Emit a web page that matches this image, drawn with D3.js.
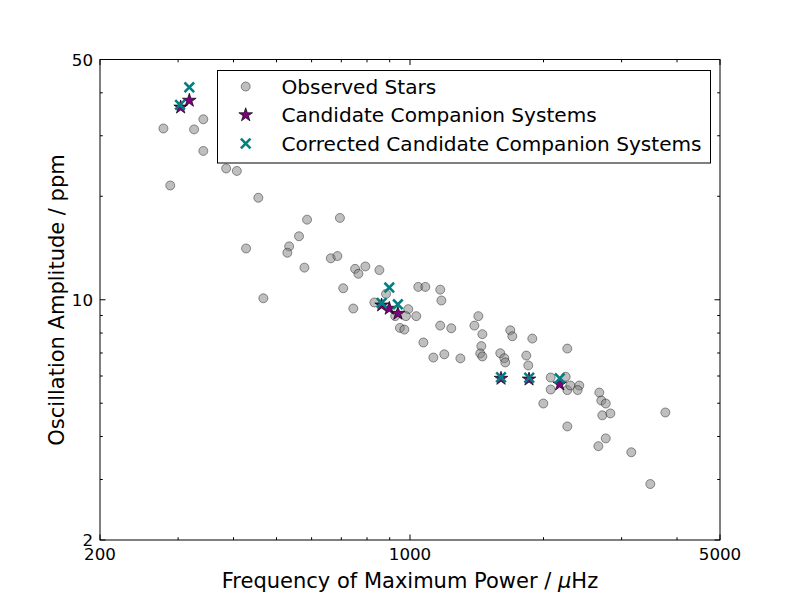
<!DOCTYPE html>
<html>
<head>
<meta charset="utf-8">
<script src="https://cdn.jsdelivr.net/npm/d3@7"></script>
<style>
  body { margin: 0; background: #fff; }
  text { font-family: "DejaVu Sans", sans-serif; fill: #000; }
</style>
</head>
<body>
<svg id="chart" width="800" height="600"></svg>
<script>
// observed stars (numax in uHz, amplitude in ppm)
var obsFreq = [278, 326, 342, 342, 385, 407, 288, 455, 427, 586, 695, 562, 534, 529, 578, 663,
  686, 752, 765, 793, 853, 707, 467, 745, 831, 883, 991, 926, 979, 1033, 949, 971, 1072, 1044,
  1083, 1170, 1177, 1170, 1239, 1129, 1195, 1299, 1426, 1397, 1456, 1448, 1440, 1456, 1598, 1632,
  1640, 1683, 1701, 1887, 1829, 1848, 2263, 2076, 2244, 2076, 2263, 2299, 2408, 2388, 1998, 2263,
  2672, 2700, 2763, 2714, 2830, 2763, 2659, 3155, 3482, 3765];
var obsAmp = [31.5, 31.3, 33.5, 27.1, 24.1, 23.7, 21.5, 19.8, 14.1, 17.1, 17.3, 15.3, 14.3, 13.7, 12.4, 13.2,
  13.4, 12.3, 11.9, 12.5, 12.2, 10.8, 10.1, 9.43, 9.82, 10.4, 9.39, 8.96, 8.96, 8.96, 8.28, 8.19, 7.51, 10.9,
  10.9, 10.7, 9.95, 8.41, 8.26, 6.79, 6.94, 6.75, 8.96, 8.41, 7.94, 7.33, 6.98, 6.84, 6.99, 6.76,
  6.57, 8.15, 7.83, 7.71, 6.88, 6.44, 7.21, 5.94, 5.97, 5.48, 5.46, 5.63, 5.63, 5.46, 4.99, 4.28,
  5.37, 5.09, 4.99, 4.61, 4.67, 3.95, 3.75, 3.60, 2.91, 4.70];

// candidate companion systems
var candFreq = [304, 318, 863, 898, 939, 1604, 1855, 2176];
var candAmp = [36.3, 38.0, 9.64, 9.43, 9.12, 5.90, 5.87, 5.68];

// corrected candidates
var corrFreq = [303, 318, 863, 898, 939, 1604, 1857, 2176];
var corrAmp = [36.9, 41.5, 9.79, 10.85, 9.70, 5.95, 5.93, 5.91];

var xMajor = [200, 1000, 5000];
var xMinor = [300, 400, 500, 600, 700, 800, 900, 2000, 3000, 4000];
var yMajor = [2, 10, 50];
var yMinor = [3, 4, 5, 6, 7, 8, 9, 20, 30, 40];

var legendLabels = ["Observed Stars", "Candidate Companion Systems", "Corrected Candidate Companion Systems"];

var pL = 100, pR = 720, pT = 59.5, pB = 540;

var svg = d3.select("#chart");
var x = d3.scaleLog().domain([200, 5000]).range([pL, pR]);
var y = d3.scaleLog().domain([2, 50]).range([pB, pT]);

var g = svg.append("g");

// observed
g.selectAll("circle.obs")
  .data(d3.range(obsFreq.length))
  .enter()
  .append("circle")
  .attr("class", "obs")
  .attr("cx", function (i) { return x(obsFreq[i]); })
  .attr("cy", function (i) { return y(obsAmp[i]); })
  .attr("r", 4.5)
  .attr("fill", "#808080")
  .attr("fill-opacity", 0.5)
  .attr("stroke", "#000")
  .attr("stroke-opacity", 0.5)
  .attr("stroke-width", 0.8);

var star = d3.symbol().type(d3.symbolStar).size(58);

g.selectAll("path.cand")
  .data(d3.range(candFreq.length))
  .enter()
  .append("path")
  .attr("class", "cand")
  .attr("d", star)
  .attr("transform", function (i) { return "translate(" + x(candFreq[i]) + "," + y(candAmp[i]) + ")"; })
  .attr("fill", "#800080")
  .attr("stroke", "#000")
  .attr("stroke-width", 0.7);

function cross(s) {
  return "M" + (-s) + "," + (-s) + "L" + s + "," + s + "M" + (-s) + "," + s + "L" + s + "," + (-s);
}

g.selectAll("path.corr")
  .data(d3.range(corrFreq.length))
  .enter()
  .append("path")
  .attr("class", "corr")
  .attr("d", cross(4.8))
  .attr("transform", function (i) { return "translate(" + x(corrFreq[i]) + "," + y(corrAmp[i]) + ")"; })
  .attr("fill", "none")
  .attr("stroke", "#008080")
  .attr("stroke-width", 2.6);

// axes, ticks pointing inwards on all four sides
function ticks(vals, len) {
  vals.forEach(function (v) {
    var px = x(v);
    g.append("line").attr("x1", px).attr("x2", px).attr("y1", pB).attr("y2", pB - len).attr("stroke", "#000");
    g.append("line").attr("x1", px).attr("x2", px).attr("y1", pT).attr("y2", pT + len).attr("stroke", "#000");
  });
}
function yticks(vals, len) {
  vals.forEach(function (v) {
    var py = y(v);
    g.append("line").attr("x1", pL).attr("x2", pL + len).attr("y1", py).attr("y2", py).attr("stroke", "#000");
    g.append("line").attr("x1", pR).attr("x2", pR - len).attr("y1", py).attr("y2", py).attr("stroke", "#000");
  });
}
ticks(xMajor, 5.5);
ticks(xMinor, 2.8);
yticks(yMajor, 5.5);
yticks(yMinor, 2.8);

g.append("rect")
  .attr("x", pL).attr("y", pT)
  .attr("width", pR - pL).attr("height", pB - pT)
  .attr("fill", "none").attr("stroke", "#000").attr("stroke-width", 1);

xMajor.forEach(function (v) {
  g.append("text").attr("x", x(v)).attr("y", 560).attr("text-anchor", "middle")
    .attr("font-size", 16.7).text(v);
});
yMajor.forEach(function (v) {
  g.append("text").attr("x", pL - 7).attr("y", y(v) + 6).attr("text-anchor", "end")
    .attr("font-size", 16.7).text(v);
});

// axis labels
var xl = g.append("text").attr("x", 410).attr("y", 588).attr("text-anchor", "middle").attr("font-size", 21);
xl.append("tspan").text("Frequency of Maximum Power / ");
xl.append("tspan").attr("font-style", "italic").text("\u03bc");
xl.append("tspan").text("Hz");

g.append("text")
  .attr("transform", "translate(64,300) rotate(-90)")
  .attr("text-anchor", "middle").attr("font-size", 21)
  .text("Oscillation Amplitude / ppm");

// legend
var lg = svg.append("g");
lg.append("rect").attr("x", 217.5).attr("y", 70.5).attr("width", 493).attr("height", 92.5)
  .attr("fill", "#fff").attr("stroke", "#000").attr("stroke-width", 1);
var rowsY = [86.5, 115, 143.5];
lg.append("circle").attr("cx", 245.7).attr("cy", rowsY[0]).attr("r", 4.5)
  .attr("fill", "#808080").attr("fill-opacity", 0.5).attr("stroke", "#000").attr("stroke-opacity", 0.5).attr("stroke-width", 0.8);
lg.append("path").attr("d", star).attr("transform", "translate(245.7," + rowsY[1] + ")")
  .attr("fill", "#800080").attr("stroke", "#000").attr("stroke-width", 0.7);
lg.append("path").attr("d", cross(4.8)).attr("transform", "translate(245.7," + rowsY[2] + ")")
  .attr("fill", "none").attr("stroke", "#008080").attr("stroke-width", 2.6);
legendLabels.forEach(function (t, i) {
  lg.append("text").attr("x", 281.5).attr("y", rowsY[i] + 7).attr("font-size", 20.1).text(t);
});
</script>
</body>
</html>
